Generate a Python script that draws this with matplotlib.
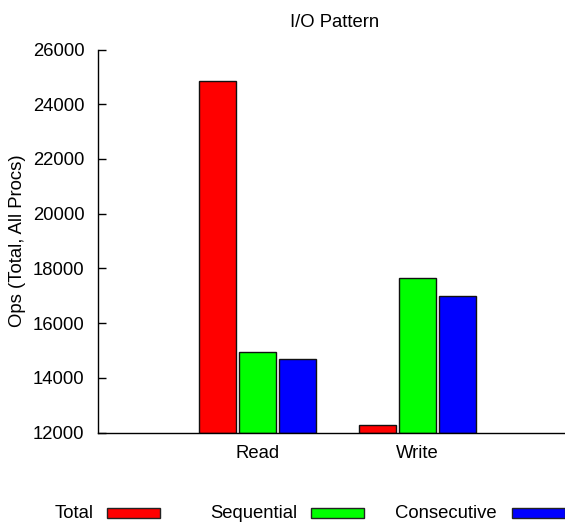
import matplotlib

matplotlib.use("Agg")
import matplotlib.pyplot as plt
from matplotlib.patches import Rectangle
import numpy as np

categories = ["Read", "Write"]
series_names = ["Total", "Sequential", "Consecutive"]
series_colors = ["#ff0000", "#00ff00", "#0000ff"]
total = [24860, 12260]
sequential = [14950, 17660]
consecutive = [14690, 16980]
y_ticks = [12000, 14000, 16000, 18000, 20000, 22000, 24000, 26000]

plt.rcParams["font.family"] = ["Liberation Sans", "DejaVu Sans"]
plt.rcParams["font.size"] = 13.3

W, H = 565, 522
fig = plt.figure(figsize=(W / 100, H / 100), dpi=100)
ax = fig.add_axes([97.5 / W, (H - 432.5) / H, 480 / W, 383 / H])

x = np.arange(len(categories))
width = 0.228
for i, (vals, color) in enumerate(zip([total, sequential, consecutive], series_colors)):
    ax.bar(x + (i - 1) * 0.25, np.array(vals) - 12000, width, bottom=12000,
           color=color, edgecolor="#111111", linewidth=1.0)

ax.set_xlim(-1, 2)
ax.set_ylim(12000, 26000)
ax.set_yticks(y_ticks)
ax.set_yticklabels([str(t) for t in y_ticks])
ax.set_xticks(x)
ax.set_xticklabels(categories)
ax.tick_params(axis="y", direction="in", length=6, width=1, pad=9.5)
ax.tick_params(axis="x", length=0, pad=9)
ax.spines["top"].set_visible(False)
ax.spines["right"].set_visible(False)
for s in ("left", "bottom"):
    ax.spines[s].set_linewidth(1.0)

fig.text(334.5 / W, 1 - 26.7 / H, "I/O Pattern", ha="center", va="baseline")
fig.text(18 / W, 1 - 241 / H, "Ops (Total, All Procs)", rotation=90,
         ha="center", va="center")

# legend along the bottom: label right-aligned to its colour box
text_right = [94, 297, 497]
box_left = [107, 311, 512]
baseline = 517.7
box_mid = 513
for name, color, tr, bl in zip(series_names, series_colors, text_right, box_left):
    fig.text(tr / W, 1 - baseline / H, name, ha="right", va="baseline")
    fig.add_artist(Rectangle((bl / W, 1 - (box_mid + 4.7) / H), 53 / W, 9.4 / H,
                             transform=fig.transFigure, facecolor=color,
                             edgecolor="#222222", linewidth=1.0))

fig.savefig("out.png", dpi=100)
plt.close(fig)
